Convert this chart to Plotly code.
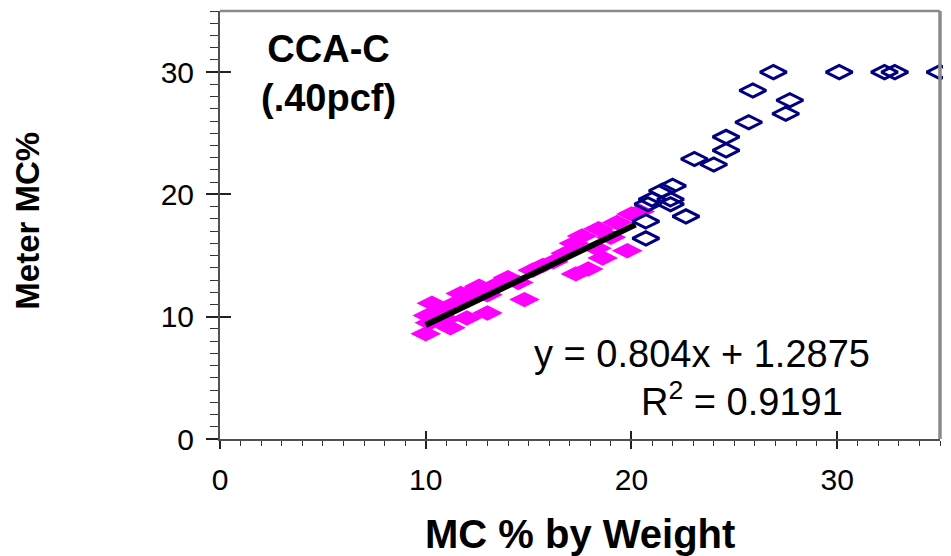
import plotly.graph_objects as go

# ---- data ----
pink_x = [10.0, 10.2, 10.1, 10.3, 10.6, 11.0, 11.2, 11.3, 11.7, 12.0, 12.0, 12.4,
          12.6, 13.0, 13.0, 13.4, 14.0, 14.5, 14.8, 15.2, 15.7, 16.2, 16.8, 17.2,
          17.3, 17.6, 17.9, 18.3, 18.4, 18.6, 19.0, 19.3, 19.8, 20.0, 20.4]
pink_y = [8.6, 9.5, 10.1, 11.1, 10.4, 9.8, 9.1, 11.0, 11.9, 9.9, 11.5, 12.2,
          12.5, 10.3, 11.8, 12.6, 13.2, 12.8, 11.4, 13.8, 14.2, 14.5, 15.2, 16.0,
          13.5, 16.6, 13.9, 15.6, 17.2, 14.8, 16.5, 17.7, 15.4, 18.4, 18.6]

blue_x = [20.7, 20.7, 20.8, 21.0, 21.5, 21.9, 21.9, 22.0, 22.65, 23.06, 24.0,
          24.6, 24.6, 25.7, 25.9, 26.9, 27.5, 27.7, 30.1, 32.3, 32.8, 35.0]
blue_y = [16.4, 17.8, 19.2, 19.6, 20.3, 19.6, 19.2, 20.7, 18.2, 22.9, 22.45,
          23.6, 24.7, 25.9, 28.5, 30.0, 26.6, 27.7, 30.0, 30.0, 30.0, 30.0]

slope = 0.804
intercept = 1.2875
r_squared = 0.9191
trend_x = [10.0, 20.2]
trend_y = [slope * v + intercept for v in trend_x]

x_ticks = [0, 10, 20, 30]
y_ticks = [0, 10, 20, 30]
axis_range = [0, 35]

FONT = "Arial, Liberation Sans, sans-serif"

fig = go.Figure()
fig.add_trace(go.Scatter(
    x=pink_x, y=pink_y, mode="markers", cliponaxis=False, showlegend=False,
    marker=dict(symbol="diamond-wide", size=22, color="#FF00FF", line=dict(width=0)),
))
fig.add_trace(go.Scatter(
    x=trend_x, y=trend_y, mode="lines", showlegend=False,
    line=dict(color="black", width=6),
))
fig.add_trace(go.Scatter(
    x=blue_x, y=blue_y, mode="markers", cliponaxis=False, showlegend=False,
    marker=dict(symbol="diamond-wide-open", size=19, color="#000080",
                line=dict(width=3, color="#000080")),
))
# empty trace so the overlay axes (inner halves of major ticks) are drawn
fig.add_trace(go.Scatter(x=[None], y=[None], xaxis="x2", yaxis="y2",
                         mode="markers", showlegend=False))

# the page body has an 8px margin, so the figure is sized 8px smaller
fig.update_layout(
    width=943, height=548,
    margin=dict(l=212, r=11, t=3, b=117),
    paper_bgcolor="white", plot_bgcolor="white",
    font=dict(family=FONT, color="black"),
    xaxis=dict(
        range=axis_range, tickvals=x_ticks, showgrid=False, zeroline=False,
        showline=True, linecolor="#505050", linewidth=2,
        ticks="outside", ticklen=8, tickwidth=1.5, tickcolor="#222",
        tickfont=dict(size=30, family=FONT), ticklabelstandoff=5,
        minor=dict(dtick=1, ticks="outside", ticklen=5, tickwidth=1.2, tickcolor="#333"),
    ),
    yaxis=dict(
        range=axis_range, tickvals=y_ticks, showgrid=False, zeroline=False,
        showline=True, linecolor="#505050", linewidth=2,
        ticks="outside", ticklen=12, tickwidth=1.5, tickcolor="#222",
        tickfont=dict(size=30, family=FONT), ticklabelstandoff=6,
        minor=dict(dtick=1, ticks="outside", ticklen=8, tickwidth=1.2, tickcolor="#333"),
    ),
    xaxis2=dict(overlaying="x", anchor="y", side="bottom", range=axis_range,
                tickvals=x_ticks, ticks="inside", ticklen=8, tickwidth=1.5,
                tickcolor="#222", showticklabels=False, showgrid=False,
                zeroline=False, showline=False),
    yaxis2=dict(overlaying="y", anchor="x", side="left", range=axis_range,
                tickvals=y_ticks, ticks="inside", ticklen=11, tickwidth=1.5,
                tickcolor="#222", showticklabels=False, showgrid=False,
                zeroline=False, showline=False),
    shapes=[
        dict(type="line", xref="x domain", yref="y domain", x0=0, x1=1, y0=1, y1=1,
             line=dict(color="#8a8a8a", width=2.5)),
        dict(type="line", xref="x domain", yref="y domain", x0=1, x1=1, y0=0, y1=1,
             line=dict(color="#8a8a8a", width=3.5)),
    ],
    annotations=[
        dict(text="<b>CCA-C<br>(.40pcf)</b>", xref="x domain", yref="y domain",
             x=0.15, y=0.854, xanchor="center", yanchor="middle", showarrow=False,
             font=dict(size=38, family=FONT, color="black"), align="center"),
        dict(text=f"y = {slope}x + {intercept}", xref="x domain", yref="y domain",
             x=0.669, y=0.198, xanchor="center", yanchor="middle", showarrow=False,
             font=dict(size=38, family=FONT, color="black")),
        dict(text=f"R<sup>2</sup> = {r_squared}", xref="x domain", yref="y domain",
             x=0.725, y=0.093, xanchor="center", yanchor="middle", showarrow=False,
             font=dict(size=38, family=FONT, color="black")),
        dict(text="<b>MC % by Weight</b>", xref="x domain", yref="y domain",
             x=0.5, y=-0.222, xanchor="center", yanchor="middle", showarrow=False,
             font=dict(size=40, family=FONT, color="black")),
        dict(text="<b>Meter MC%</b>", xref="x domain", yref="y domain",
             x=-0.2667, y=0.51, xanchor="center", yanchor="middle", showarrow=False,
             textangle=-90, font=dict(size=33, family=FONT, color="black")),
    ],
)

fig.write_html("out.html")
